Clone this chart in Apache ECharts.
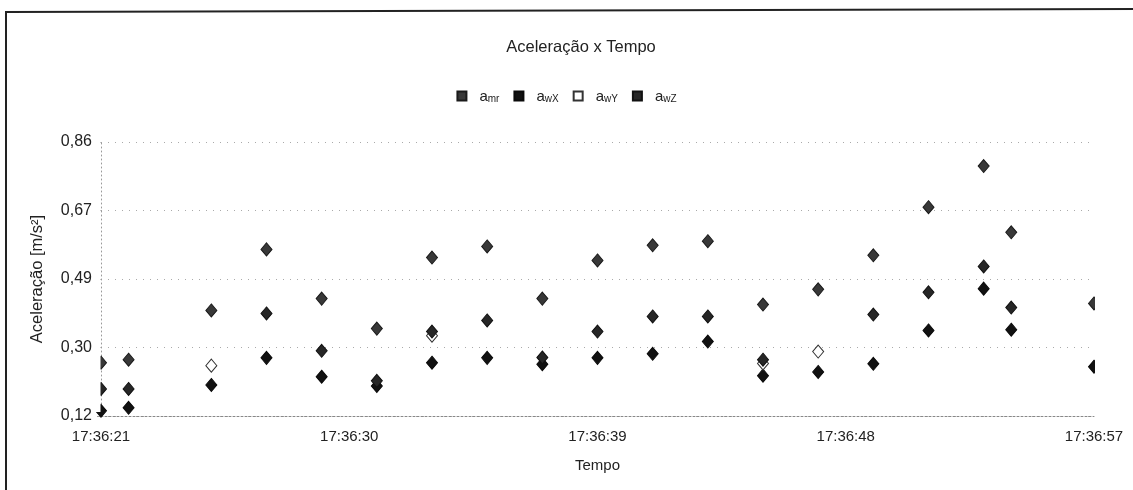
<!DOCTYPE html>
<html>
<head>
<meta charset="utf-8">
<script src="https://cdn.jsdelivr.net/npm/echarts@6/dist/echarts.min.js"></script>
<style>
  html, body { margin: 0; padding: 0; background: #fff; }
  #chart { width: 1133px; height: 490px; }
</style>
</head>
<body>
<div id="chart"></div>
<script>
// Seconds elapsed since 17:36:21 for each sample
const times = [0, 1, 4, 6, 8, 10, 12, 14, 16, 18, 20, 22, 24, 26, 28, 30, 32, 33, 36];

// Acceleration samples [m/s²]
const aMr = [0.264, 0.272, 0.405, 0.570, 0.437, 0.356, 0.548, 0.578, 0.437, 0.540, 0.581, 0.592, 0.421, 0.462, 0.554, 0.684, 0.795, 0.616, 0.424];
const aWX = [0.134, 0.142, 0.204, 0.277, 0.226, 0.201, 0.264, 0.277, 0.260, 0.277, 0.288, 0.321, 0.229, 0.239, 0.261, 0.351, 0.464, 0.353, 0.253];
const aWY = [null, null, 0.256, null, null, null, 0.337, null, null, null, null, null, 0.262, 0.294, null, null, null, null, null];
const aWZ = [0.193, 0.193, null, 0.397, 0.296, 0.215, 0.348, 0.378, 0.278, 0.348, 0.389, 0.389, 0.272, null, 0.394, 0.454, 0.524, 0.413, null];

// Axis ticks
const xTickStep = 9;
const xTickLabels = ['17:36:21', '17:36:30', '17:36:39', '17:36:48', '17:36:57'];
const yTickValues = [0.12, 0.305, 0.49, 0.675, 0.86];
const yTickLabels = ['0,12', '0,30', '0,49', '0,67', '0,86'];

const seriesNames = ['a_mr', 'a_wX', 'a_wY', 'a_wZ'];
const seriesSubs = { a_mr: 'mr', a_wX: 'wX', a_wY: 'wY', a_wZ: 'wZ' };

const W = 1133, H = 490;
const GRID = { left: 101, right: 39, top: 142, bottom: 74 };
const FONT = '"Liberation Sans", Arial, sans-serif';
const chart = echarts.init(document.getElementById('chart'), null, { renderer: 'canvas' });

function pairs(values) {
  const out = [];
  times.forEach((t, i) => { if (values[i] != null) out.push([t, values[i]]); });
  return out;
}

function scatter(name, values, fill, border) {
  return {
    name: name,
    type: 'scatter',
    symbol: 'diamond',
    symbolSize: [11, 13],
    data: pairs(values),
    itemStyle: { color: fill, borderColor: border, borderWidth: 1, opacity: 1 },
    emphasis: { disabled: true }
  };
}

const nearestIndex = (arr, v) => {
  let best = 0;
  arr.forEach((a, i) => { if (Math.abs(a - v) < Math.abs(arr[best] - v)) best = i; });
  return best;
};

// White strips just outside the plot's side edges trim markers sitting on them
const plotRight = W - GRID.right;
const stripTop = GRID.top - 10;
const stripHeight = H - GRID.bottom - GRID.top + 6;

chart.setOption({
  backgroundColor: '#ffffff',
  animation: false,
  title: {
    text: 'Aceleração x Tempo',
    left: 576,
    textAlign: 'center',
    top: 34,
    textStyle: { fontFamily: FONT, fontSize: 16.5, fontWeight: 'normal', color: '#222' }
  },
  legend: {
    top: 84,
    left: 'center',
    itemWidth: 9,
    itemHeight: 9,
    itemGap: 14,
    icon: 'rect',
    data: seriesNames,
    formatter: n => '{b|a}{s|' + seriesSubs[n] + '}',
    textStyle: {
      fontFamily: FONT,
      color: '#222',
      rich: {
        b: { fontFamily: FONT, fontSize: 15, color: '#222', padding: [0, 0, 0, 8], verticalAlign: 'bottom', lineHeight: 16 },
        s: { fontFamily: FONT, fontSize: 10, color: '#222', verticalAlign: 'bottom', lineHeight: 13 }
      }
    }
  },
  grid: GRID,
  xAxis: {
    type: 'value',
    min: 0,
    max: 36,
    interval: xTickStep,
    name: 'Tempo',
    nameLocation: 'middle',
    nameGap: 42,
    nameTextStyle: { fontFamily: FONT, fontSize: 15, color: '#222' },
    axisLine: { show: true, lineStyle: { color: '#888', type: [2, 2], width: 1 } },
    axisTick: { show: false },
    splitLine: { show: false },
    axisLabel: {
      fontFamily: FONT, fontSize: 15, color: '#222', margin: 13,
      formatter: v => xTickLabels[Math.round(v / xTickStep)]
    }
  },
  yAxis: {
    type: 'value',
    min: 0.12,
    max: 0.86,
    name: 'Aceleração [m/s²]',
    nameLocation: 'middle',
    nameGap: 55,
    nameTextStyle: { fontFamily: FONT, fontSize: 16.5, color: '#222' },
    axisLine: { show: true, lineStyle: { color: '#999', type: [1, 3], width: 1 } },
    axisTick: { show: true, length: 4, customValues: yTickValues, lineStyle: { color: '#999' } },
    splitLine: { show: true, lineStyle: { color: '#aaa', type: [1, 6], width: 1 } },
    axisLabel: {
      fontFamily: FONT, fontSize: 16, color: '#222', margin: 9,
      customValues: yTickValues,
      formatter: v => yTickLabels[nearestIndex(yTickValues, v)]
    }
  },
  graphic: {
    elements: [
      {
        type: 'rect', zlevel: 2, z: 100, silent: true,
        shape: { x: GRID.left - 9, y: stripTop, width: 8.5, height: stripHeight },
        style: { fill: '#ffffff' }
      },
      {
        type: 'rect', zlevel: 2, z: 100, silent: true,
        shape: { x: plotRight + 1, y: stripTop, width: 12, height: stripHeight },
        style: { fill: '#ffffff' }
      },
      {
        type: 'polyline', zlevel: 2, z: 100, silent: true,
        shape: { points: [[6, H], [6, 12], [W, 9]] },
        style: { stroke: '#222', lineWidth: 2, fill: null }
      }
    ]
  },
  series: [
    scatter('a_mr', aMr, '#383838', '#1a1a1a'),
    scatter('a_wX', aWX, '#111111', '#0a0a0a'),
    scatter('a_wY', aWY, '#ffffff', '#333'),
    scatter('a_wZ', aWZ, '#262626', '#111')
  ]
});
</script>
</body>
</html>
